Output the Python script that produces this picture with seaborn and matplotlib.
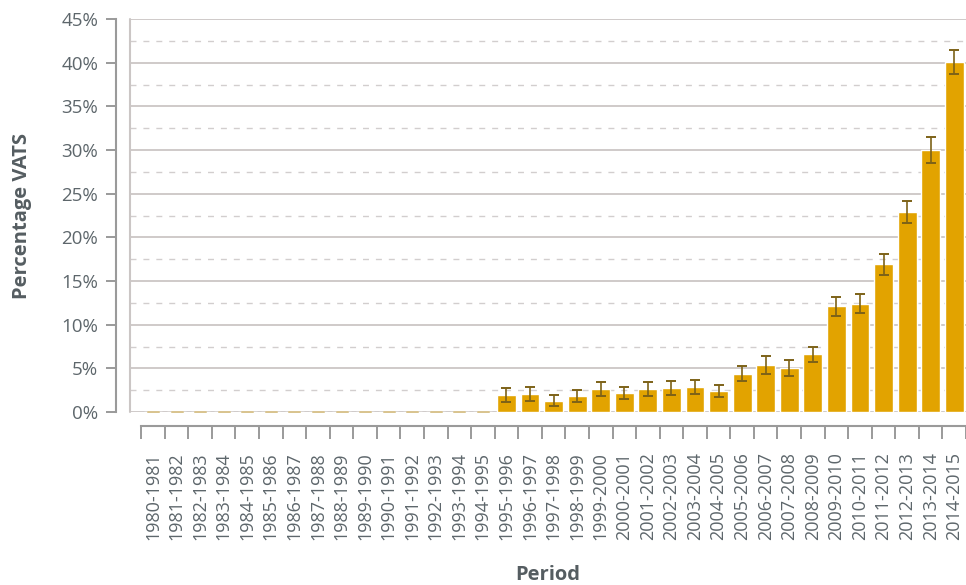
import numpy as np
import pandas as pd
import seaborn as sns
import matplotlib.pyplot as plt
from matplotlib.lines import Line2D
from matplotlib.ticker import MultipleLocator, FuncFormatter

periods = [f"{y}-{y + 1}" for y in range(1980, 2015)]
vats_pct = [0.0] * 15 + [2.0, 2.1, 1.3, 1.8, 2.6, 2.2, 2.6, 2.7, 2.9, 2.4,
                         4.4, 5.4, 5.0, 6.6, 12.1, 12.4, 16.9, 22.9, 30.0, 40.1]
vats_err = [0.0] * 15 + [0.8, 0.8, 0.6, 0.7, 0.8, 0.7, 0.8, 0.8, 0.8, 0.7,
                         0.9, 1.0, 0.9, 0.9, 1.1, 1.1, 1.2, 1.3, 1.5, 1.4]

df = pd.DataFrame({"Period": periods, "VATS": vats_pct, "err": vats_err})
df["pos"] = np.arange(len(df))

sns.set_theme(style="white")
plt.rcParams["font.family"] = ["Open Sans", "DejaVu Sans"]

BAR = "#E2A300"
ERR = "#7d6218"
ERR_ZERO = "#d9c48e"
TXT = "#5d666b"
SPINE = "#9a9a9a"

fig = plt.figure(figsize=(9.66, 5.85), dpi=100)
ax = fig.add_axes([130 / 966, 173 / 585, 836 / 966, 393 / 585])

sns.barplot(data=df, x="Period", y="VATS", color=BAR, saturation=1,
            width=0.8, errorbar=None, ax=ax, zorder=3)

# error bars; periods with no VATS show only a faint cap on the baseline
nonzero = df[df["VATS"] > 0]
zero = df[df["VATS"] == 0]
ax.errorbar(nonzero["pos"], nonzero["VATS"], yerr=nonzero["err"], fmt="none",
            ecolor=ERR, elinewidth=1.2, capsize=3.5, capthick=1.4, zorder=4)
ax.errorbar(zero["pos"], zero["VATS"], yerr=zero["err"], fmt="none",
            ecolor=ERR_ZERO, elinewidth=1.2, capsize=4, capthick=1.8, zorder=4)

ax.set_xlim(-0.975, 34.45)
ax.set_ylim(0, 45)

# y axis: outward spine with ticks every 5 %, dashed grid every 2.5 %
ax.yaxis.set_major_locator(MultipleLocator(5))
ax.yaxis.set_minor_locator(MultipleLocator(2.5))
ax.yaxis.set_major_formatter(FuncFormatter(lambda v, p: f"{v:.0f}%"))
ax.grid(axis="y", which="major", color="#cbc6c5", lw=1.3, ls="-", zorder=0)
ax.grid(axis="y", which="minor", color="#d2cece", lw=1.0,
        ls=(0, (4.3, 5.0)), zorder=0)
ax.tick_params(axis="y", which="major", direction="out", length=7, width=1.4,
               color=SPINE, pad=6, labelsize=13.5, labelcolor=TXT, left=True)
ax.tick_params(axis="y", which="minor", length=0)

# x axis: outward spine, ticks at category boundaries
ax.set_xticks(np.arange(len(df)))
ax.set_xticks(np.arange(len(df) + 1) - 0.5, minor=True)
ax.set_xticklabels(periods)
ax.tick_params(axis="x", which="major", length=0, pad=19, labelsize=13,
               labelcolor=TXT, labelrotation=90)
ax.tick_params(axis="x", which="minor", direction="out", length=9, width=1.4,
               color=SPINE, bottom=True)

for side in ("top", "right"):
    ax.spines[side].set_visible(False)
ax.spines["left"].set_position(("outward", 10))
ax.spines["left"].set_color(SPINE)
ax.spines["left"].set_linewidth(1.5)
ax.spines["bottom"].set_position(("outward", 10))
ax.spines["bottom"].set_color(SPINE)
ax.spines["bottom"].set_linewidth(1.5)
ax.spines["bottom"].set_bounds(-0.5, 34.5)

# light plot-area frame on the left edge
ax.add_line(Line2D([0, 0], [0, 1], transform=ax.transAxes, color="#cbc6c5",
                   lw=1.5, clip_on=False, zorder=1))

ax.set_xlabel("Period", fontsize=14.5, fontweight="bold", color="#555d61",
              labelpad=18)
ax.set_ylabel("Percentage VATS", fontsize=14.5, fontweight="bold",
              color="#555d61", labelpad=21)

fig.savefig("out.png", dpi=100)
